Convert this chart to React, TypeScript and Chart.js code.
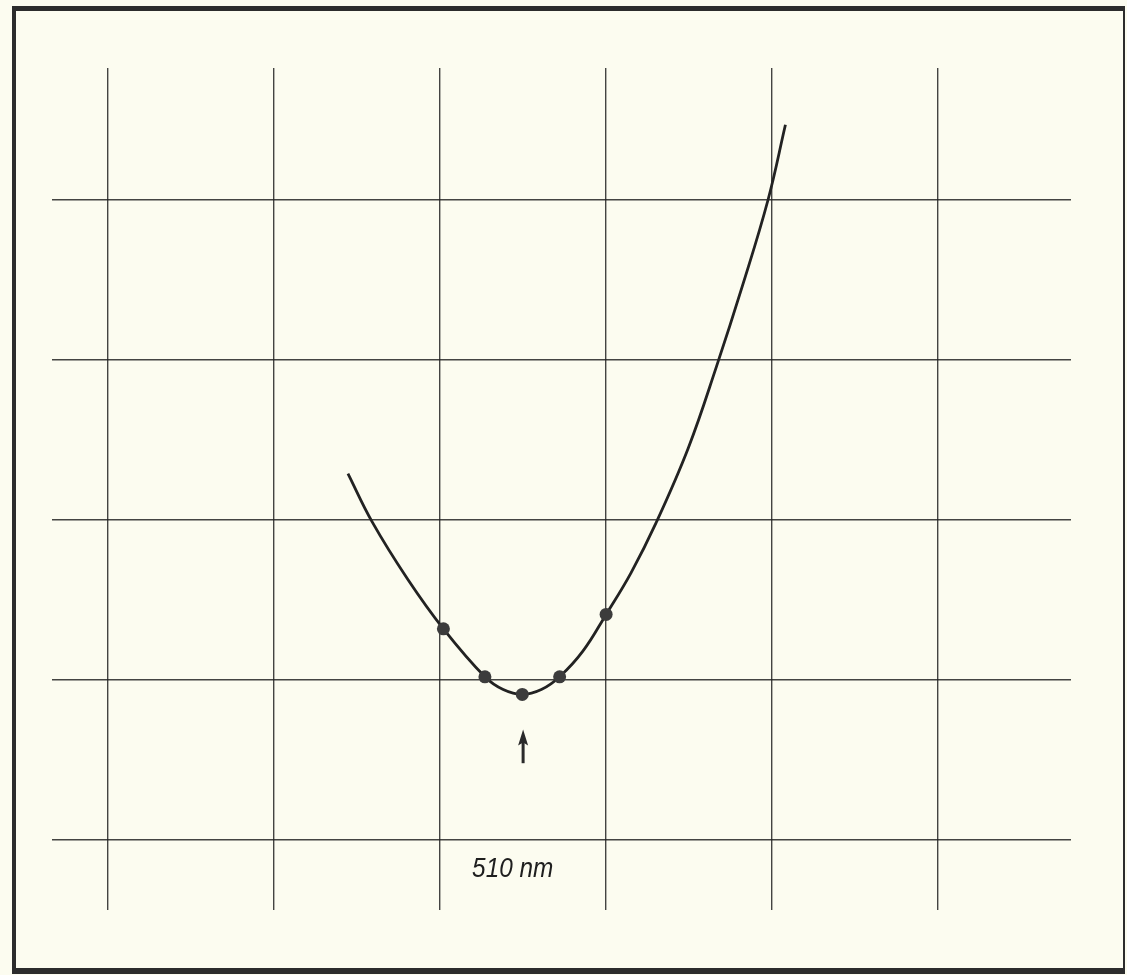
import React, { useEffect, useRef } from "react";
import { Chart, registerables } from "chart.js";

Chart.register(...registerables);

// Wavelength (nm) grid lines and arbitrary ordinate grid lines
const xGridTicks = [460, 480, 500, 520, 540, 560];
const yGridTicks = [0, 1, 2, 3, 4];

// Measured points
const pointX = [500.4, 505.4, 509.9, 514.4, 520.0];
const pointY = [1.32, 1.02, 0.91, 1.02, 1.41];

// Hand-drawn fitted curve
const curveX = [488.9, 491.8, 496.1, 500.4, 505.4, 507.6, 509.9, 512.2, 514.4, 517.2, 520.0, 523.0, 526.0, 529.9, 533.3, 536.4, 539.5, 541.6];
const curveY = [2.29, 1.99, 1.63, 1.32, 1.02, 0.94, 0.91, 0.94, 1.02, 1.18, 1.41, 1.67, 1.98, 2.45, 2.96, 3.46, 4.0, 4.47];

// Arrow marking the minimum and its label
const arrowX = 510;
const arrowTipY = 0.69;
const arrowTailY = 0.48;
const labelText = "510 nm";
const labelY = -0.23;

const X_MIN = 453.25;
const X_MAX = 576.0;
const Y_MIN = -0.4375;
const Y_MAX = 4.825;

const annotationPlugin = {
  id: "annot",
  afterDatasetsDraw(chart: any) {
    const { ctx } = chart;
    const xs = chart.scales.x;
    const ys = chart.scales.y;
    const ax = xs.getPixelForValue(arrowX);
    const tip = ys.getPixelForValue(arrowTipY);
    const tail = ys.getPixelForValue(arrowTailY);
    ctx.save();
    ctx.strokeStyle = "#2a2a2a";
    ctx.fillStyle = "#2a2a2a";
    ctx.lineWidth = 3;
    ctx.beginPath();
    ctx.moveTo(ax, tail);
    ctx.lineTo(ax, tip + 12);
    ctx.stroke();
    ctx.beginPath();
    ctx.moveTo(ax, tip);
    ctx.lineTo(ax - 5, tip + 16);
    ctx.lineTo(ax, tip + 13);
    ctx.lineTo(ax + 5, tip + 16);
    ctx.closePath();
    ctx.fill();

    const ly = ys.getPixelForValue(labelY);
    ctx.translate(ax - 51, ly);
    ctx.scale(0.87, 1);
    ctx.font = "italic 28px 'Liberation Sans', Arial, sans-serif";
    ctx.textBaseline = "alphabetic";
    ctx.textAlign = "left";
    ctx.fillStyle = "#1e1e1e";
    ctx.fillText(labelText, 0, 0);
    ctx.restore();
  },
};

export default function App() {
  const ref = useRef<HTMLCanvasElement | null>(null);

  useEffect(() => {
    if (!ref.current) return;
    const chart = new Chart(ref.current, {
      type: "scatter",
      data: {
        datasets: [
          {
            label: "points",
            data: pointX.map((x, i) => ({ x, y: pointY[i] })),
            showLine: false,
            pointRadius: 6.5,
            pointBackgroundColor: "#3c3c3c",
            pointBorderColor: "#3c3c3c",
            pointBorderWidth: 0,
          },
          {
            label: "curve",
            data: curveX.map((x, i) => ({ x, y: curveY[i] })),
            showLine: true,
            borderColor: "#222222",
            borderWidth: 2.8,
            pointRadius: 0,
            tension: 0.4,
            fill: false,
          },
        ],
      },
      options: {
        responsive: false,
        animation: false,
        devicePixelRatio: 1,
        layout: { padding: { left: 52, right: 56, top: 68, bottom: 65 } },
        plugins: { legend: { display: false }, tooltip: { enabled: false } },
        scales: {
          x: {
            type: "linear",
            min: X_MIN,
            max: X_MAX,
            afterBuildTicks: (scale: any) => {
              scale.ticks = xGridTicks.map((v) => ({ value: v }));
            },
            ticks: { display: false },
            grid: { drawTicks: false, color: "rgba(35,35,35,0.85)", lineWidth: 1.4 },
            border: { display: false },
          },
          y: {
            type: "linear",
            min: Y_MIN,
            max: Y_MAX,
            afterBuildTicks: (scale: any) => {
              scale.ticks = yGridTicks.map((v) => ({ value: v }));
            },
            ticks: { display: false },
            grid: { drawTicks: false, color: "rgba(35,35,35,0.85)", lineWidth: 1.4 },
            border: { display: false },
          },
        },
      },
      plugins: [annotationPlugin],
    });
    return () => chart.destroy();
  }, []);

  return (
    <div
      style={{
        position: "absolute",
        left: 0,
        top: 0,
        width: 1127,
        height: 975,
        background: "rgb(252,252,240)",
        overflow: "hidden",
      }}
    >
      <div
        style={{
          position: "absolute",
          left: 12,
          top: 6,
          width: 1127 - 12 - 2 - 4 - 2,
          height: 975 - 6 - 1 - 5 - 6,
          borderLeft: "4px solid #2c2c2c",
          borderTop: "5px solid #2c2c2c",
          borderBottom: "6px solid #2c2c2c",
          borderRight: "2px solid #2c2c2c",
        }}
      />
      <canvas ref={ref} width={1127} height={975} style={{ position: "absolute", left: 0, top: 0 }} />
    </div>
  );
}
